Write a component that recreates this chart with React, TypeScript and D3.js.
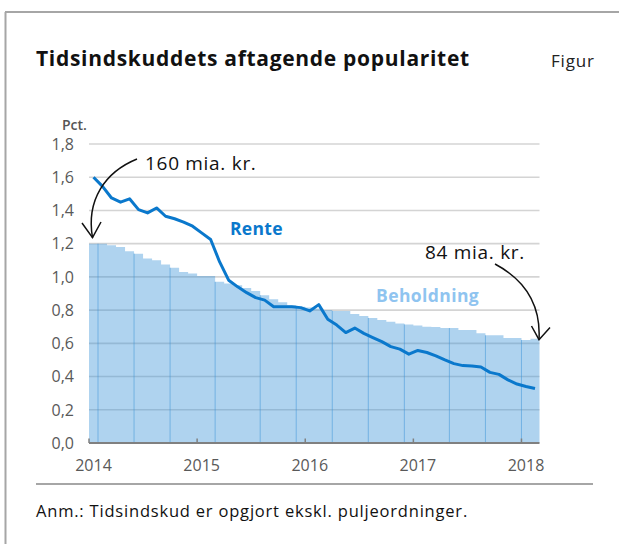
import React from "react";
import * as d3 from "d3";

const years = ["2014", "2015", "2016", "2017", "2018"];
const yTicks = [0, 0.2, 0.4, 0.6, 0.8, 1.0, 1.2, 1.4, 1.6, 1.8];

// monthly, Jan 2014 - Feb 2018
const beholdning = [
  1.2, 1.2, 1.19, 1.18, 1.155, 1.14, 1.11, 1.1, 1.075, 1.055, 1.03, 1.02,
  1.005, 1.005, 0.97, 0.96, 0.95, 0.933, 0.915, 0.89, 0.865, 0.847, 0.83, 0.82,
  0.815, 0.81, 0.8, 0.795, 0.795, 0.777, 0.765, 0.753, 0.74, 0.73, 0.72, 0.714,
  0.708, 0.7, 0.698, 0.692, 0.692, 0.68, 0.68, 0.66, 0.648, 0.648, 0.632, 0.632,
  0.62, 0.628,
];
const rente = [
  1.6, 1.545, 1.475, 1.45, 1.47, 1.405, 1.385, 1.415, 1.365, 1.35, 1.33, 1.305,
  1.265, 1.225, 1.09, 0.98, 0.94, 0.905, 0.875, 0.86, 0.82, 0.82, 0.82, 0.815,
  0.795, 0.833, 0.745, 0.71, 0.665, 0.692, 0.66, 0.635, 0.61, 0.58, 0.565, 0.535,
  0.557, 0.545, 0.525, 0.5, 0.478, 0.466, 0.463, 0.458, 0.425, 0.413, 0.38, 0.355,
  0.34, 0.328,
];
// month boundaries where the bar seams show
const seamMonths = [1, 5, 9, 14, 19, 23, 27, 31, 35, 40, 44, 48];

const FONT = "'Open Sans', sans-serif";

export default function App() {
  const W = 619;
  const H = 544;
  const left = 89;
  const right = 539.5;
  const top = 144;
  const bottom = 443;
  const n = beholdning.length;

  const x = d3.scaleLinear().domain([0, n]).range([left, right]);
  const y = d3.scaleLinear().domain([0, 1.8]).range([bottom, top]);

  const line = d3
    .line<number>()
    .x((_, i) => x(i + 0.5))
    .y((d) => y(d))
    .curve(d3.curveLinear);

  const area = d3
    .area<number>()
    .x((_, i) => x(i))
    .y0(y(0))
    .y1((d) => y(d))
    .curve(d3.curveStepAfter);
  const areaData = [...beholdning, beholdning[n - 1]];

  const barFill = "rgb(55,145,215)";
  const barOpacity = 0.4;

  const tip1x = x(0.5) - 1;
  const tip1y = y(beholdning[0]) - 6;
  const tip2x = x(n) - 0.5;
  const tip2y = y(beholdning[n - 1]) + 1;

  return (
    <svg
      width={W}
      height={H}
      style={{ position: "absolute", left: 0, top: 0, background: "#fff" }}
      fontFamily={FONT}
    >
      {/* frame */}
      <line x1={5.5} y1={12} x2={5.5} y2={H} stroke="#a6a6a6" strokeWidth={2} />
      <line x1={5} y1={12} x2={W} y2={12} stroke="#a6a6a6" strokeWidth={2} />

      {/* title */}
      <text x={36} y={66} fontSize={21} fontWeight={700} fill="#111" letterSpacing={0.7}>
        Tidsindskuddets aftagende popularitet
      </text>
      <text x={551} y={67} fontSize={17} fill="#222" letterSpacing={0.8}>
        Figur
      </text>

      {/* unit */}
      <text x={62} y={130} fontSize={14} fill="#555" fontWeight={600}>
        Pct.
      </text>

      {/* gridlines */}
      {yTicks
        .filter((t) => t > 0)
        .map((t) => (
          <line
            key={t}
            x1={left}
            x2={right}
            y1={y(t)}
            y2={y(t)}
            stroke="#d4d4d4"
            strokeWidth={1.6}
          />
        ))}

      {/* Beholdning bars */}
      <path d={area(areaData) || ""} fill={barFill} fillOpacity={barOpacity} />
      {seamMonths.map((m) => (
        <line
          key={m}
          x1={x(m)}
          x2={x(m)}
          y1={y(0)}
          y2={y(Math.min(beholdning[m - 1], beholdning[m]))}
          stroke={barFill}
          strokeOpacity={0.5}
          strokeWidth={1}
        />
      ))}

      {/* y tick labels */}
      {yTicks.map((t) => (
        <text
          key={t}
          x={74}
          y={y(t)}
          dy="0.36em"
          textAnchor="end"
          fontSize={16}
          fill="#595959"
        >
          {t.toFixed(1).replace(".", ",")}
        </text>
      ))}

      {/* x axis */}
      <line x1={left} x2={right} y1={y(0)} y2={y(0)} stroke="#808080" strokeWidth={2} />
      {years.map((yr, k) => (
        <g key={yr}>
          <line
            x1={x(k * 12)}
            x2={x(k * 12)}
            y1={y(0) - 4.5}
            y2={y(0)}
            stroke="#808080"
            strokeWidth={1.5}
          />
          <text
            x={x(k * 12 + 0.5)}
            y={471}
            textAnchor="middle"
            fontSize={16}
            fill="#595959"
          >
            {yr}
          </text>
        </g>
      ))}

      {/* Rente line */}
      <path
        d={line(rente) || ""}
        fill="none"
        stroke="#0a78cc"
        strokeWidth={3}
        strokeLinejoin="round"
      />

      {/* labels */}
      <text x={230} y={235} fontSize={17.5} fontWeight={700} fill="#0a78cc" letterSpacing={0.3}>
        Rente
      </text>
      <text x={376} y={302} fontSize={17.5} fontWeight={700} fill="#8fc4f0" letterSpacing={0.4}>
        Beholdning
      </text>

      {/* annotations */}
      <text x={145} y={170} fontSize={19} fill="#111" letterSpacing={0.7}>
        160 mia. kr.
      </text>
      <path
        d={`M137,159 C105,172 86,200 ${tip1x},${tip1y}`}
        fill="none"
        stroke="#111"
        strokeWidth={1.5}
      />
      <path
        d={`M82,223 L${tip1x},${tip1y} L101,222`}
        fill="none"
        stroke="#111"
        strokeWidth={1.5}
      />
      <text x={425} y={259} fontSize={19} fill="#111" letterSpacing={0.7}>
        84 mia. kr.
      </text>
      <path
        d={`M495,264 C525,280 541,305 ${tip2x},${tip2y}`}
        fill="none"
        stroke="#111"
        strokeWidth={1.5}
      />
      <path
        d={`M531.5,326 L${tip2x},${tip2y} L550,327.5`}
        fill="none"
        stroke="#111"
        strokeWidth={1.5}
      />

      {/* bottom rule and note */}
      <line x1={36} x2={593} y1={484} y2={484} stroke="#a6a6a6" strokeWidth={2} />
      <text x={36} y={517} fontSize={16.5} fill="#111" letterSpacing={0.8}>
        Anm.: Tidsindskud er opgjort ekskl. puljeordninger.
      </text>
    </svg>
  );
}
